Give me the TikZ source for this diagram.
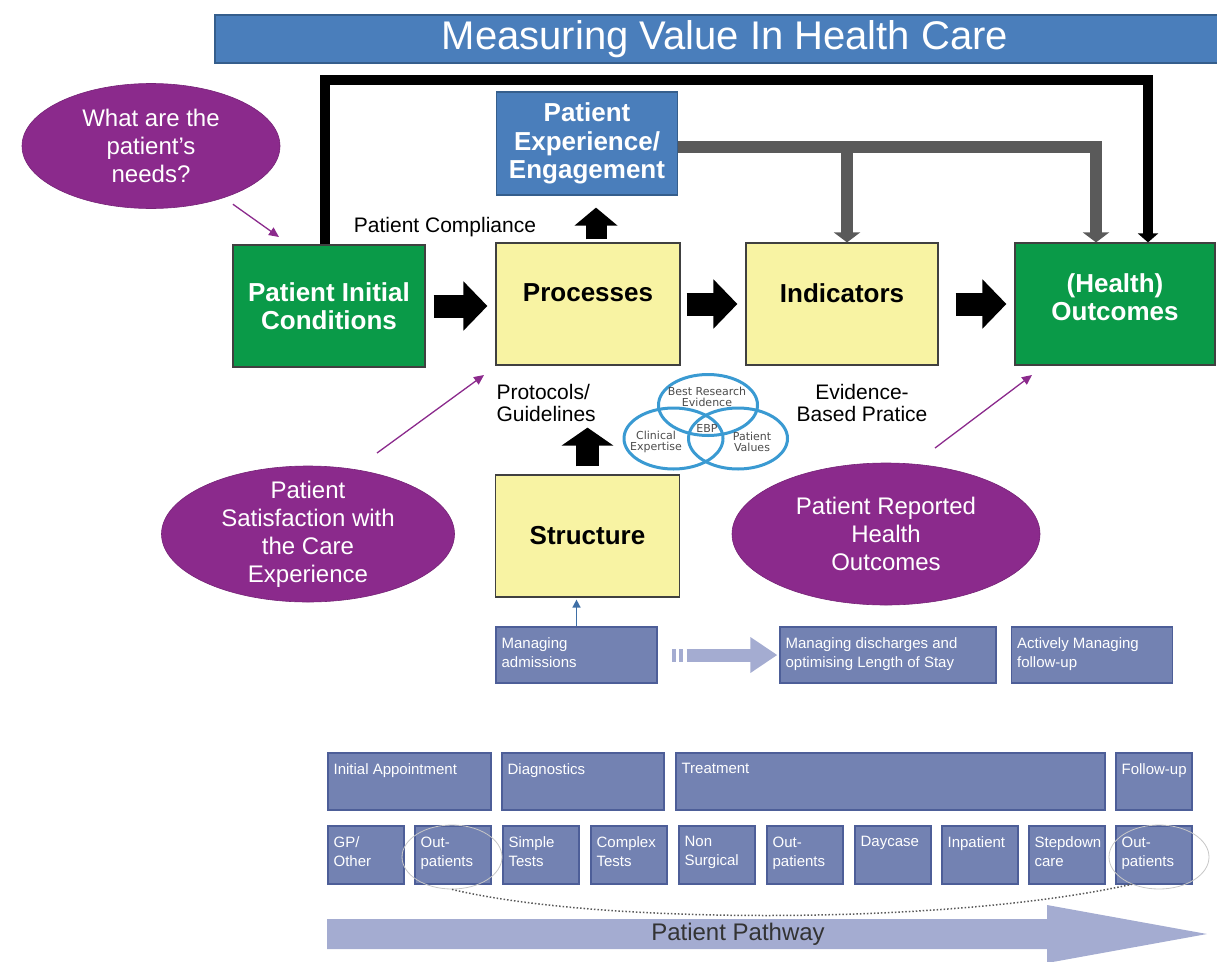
\documentclass[tikz,border=0pt]{standalone}
\usepackage{fontspec}
\setmainfont{Liberation Sans}
\newfontfamily\vennfont{DejaVu Sans}
\usetikzlibrary{shapes.geometric,arrows.meta}

\definecolor{barblue}{HTML}{4A7EBB}
\definecolor{barline}{HTML}{355E8C}
\definecolor{stagegreen}{HTML}{0A9A48}
\definecolor{stageyellow}{HTML}{F8F3A3}
\definecolor{askpurple}{HTML}{8B2A8C}
\definecolor{pathslate}{HTML}{7382B2}
\definecolor{pathline}{HTML}{4D5E98}
\definecolor{pathlilac}{HTML}{A4ACD1}
\definecolor{ebpblue}{HTML}{3A9AD2}
\definecolor{sharegray}{HTML}{5A5A5A}
\definecolor{liftblue}{HTML}{3F6FA6}

\tikzset{
  titlebar/.style={draw=barline, line width=1.2, fill=barblue, text=white,
    minimum width=1020, minimum height=48, font=\fontsize{40}{44}\selectfont},
  stage/.style={draw=black!75, line width=1.2, minimum height=122, align=center,
    font=\fontsize{26}{28.5}\selectfont\bfseries},
  green stage/.style={stage, fill=stagegreen, text=white},
  yellow stage/.style={stage, fill=stageyellow, text=black},
  blue stage/.style={stage, fill=barblue, draw=barline, text=white, minimum height=103},
  bubble/.style={ellipse, fill=askpurple, draw=askpurple!85!black, line width=0.6},
  bubbletext/.style={text=white, align=center, font=\fontsize{24}{28}\selectfont},
  note/.style={font=\fontsize{21}{22}\selectfont},
  pointer/.style={draw=askpurple, line width=1.3, -{Triangle[length=10,width=9]}},
  blockarrow/.style={line width=23, -{Triangle[length=24,width=48]}},
  liftarrow/.style n args={3}{line width=#1, -{Triangle[length=#2,width=#3]}},
  feedback/.style={line width=10, line join=miter, -{Triangle[length=9,width=20]}},
  shared/.style={draw=sharegray, line width=12, line join=miter, -{Triangle[length=10,width=26]}},
  ebp/.style={ellipse, draw=ebpblue, line width=3, minimum width=99, minimum height=61},
  ebptext/.style={font=\vennfont\fontsize{11}{10.5}\selectfont, text=black!70, align=center},
  pathbox/.style 2 args={draw=pathline, fill=pathslate, line width=1.2, inner sep=0,
    minimum width=#1, minimum height=#2},
  pathtext/.style={text=white, align=left, anchor=north west, inner xsep=6, inner ysep=11,
    font=\fontsize{15}{19}\selectfont},
  ring/.style={ellipse, draw=black!22, line width=0.8, minimum width=100, minimum height=64},
  flowlilac/.style={draw=pathlilac, line width=13, -{Triangle[length=27,width=34]}}
}

\begin{document}
\begin{tikzpicture}[x=1pt,y=-1pt]
\useasboundingbox (0,0) rectangle (1217,961);

\node[titlebar] (title) at (725,39) {Measuring Value In Health Care};

\node[green stage, minimum width=192] (pic) at (329,306) {Patient Initial\\Conditions};
\node[yellow stage, minimum width=184, text depth=22] (proc) at (588,304) {Processes};
\node[yellow stage, minimum width=192, text depth=22] (ind) at (842,304) {Indicators};
\node[green stage, minimum width=200, text depth=14] (out) at (1115,304) {(Health)\\Outcomes};
\node[blue stage, minimum width=181] (exp) at (587,143.5) {Patient\\Experience/\\Engagement};
\node[yellow stage, minimum width=184] (struct) at (587.5,536) {Structure};

% feedback loops over the top
\coordinate (loop) at (600,80);
\draw[feedback] ([xshift=-4]pic.north) |- (loop) -| ([xshift=33]out.north);
\coordinate (gbar) at (847,147);
\draw[shared] (exp.east |- gbar) -| ([xshift=-19]out.north);
\draw[shared] (gbar) -- (gbar |- ind.north);

% main chain
\draw[blockarrow, shorten <=8, shorten >=8] (pic.east) -- (pic.east -| proc.west);
\draw[blockarrow, shorten <=6, shorten >=8] (proc.east) -- (proc.east -| ind.west);
\draw[blockarrow, shorten <=17, shorten >=8] (ind.east) -- (ind.east -| out.west);
\coordinate (pu) at ([xshift=8]proc.north);
\draw[liftarrow={21}{18}{42}, shorten <=3, shorten >=12] (pu) -- (pu |- exp.south);
\draw[liftarrow={23}{18}{51}, shorten <=8, shorten >=62] (struct.north) -- (struct.north |- proc.south);

\node[note] (compliance) at (445,227) {Patient Compliance};
\node[note, align=left, anchor=west] (guides) at (493,403) {Protocols/\\Guidelines};
\node[note, align=center] (ebpnote) at (862,403) {Evidence-\\Based Pratice};

% evidence based practice circles
\node[ebp] (evid) at (708,405) {};
\node[ebp] (expert) at (673.5,438.5) {};
\node[ebp] (values) at (738,438.5) {};
\node[ebptext] (evid-t) at (707,397) {Best Research\\Evidence};
\node[ebptext] (ebp-t) at (707,428) {EBP};
\node[ebptext] (expert-t) at (656,442) {Clinical\\Expertise};
\node[ebptext] (values-t) at (752,442) {Patient\\Values};

% patient viewpoint bubbles
\node[bubble, minimum width=258, minimum height=125,
  label={[bubbletext]center:{What are the\\patient's\\needs?}}] (needs) at (151,146) {};
\node[bubble, minimum width=293, minimum height=136,
  label={[bubbletext]center:{Patient\\Satisfaction with\\the Care\\Experience}}] (sat) at (308,534) {};
\node[bubble, minimum width=308, minimum height=142,
  label={[bubbletext]center:{Patient Reported\\Health\\Outcomes}}] (rep) at (886,534) {};
\coordinate (needtip) at (279,237);
\coordinate (satfoot) at (377,453);
\coordinate (sattip) at (484,375);
\coordinate (repfoot) at (935,448);
\coordinate (reptip) at (1032,375);
\draw[pointer, shorten <=11] (needs) -- (needtip);
\draw[pointer] (satfoot) -- (sattip);
\draw[pointer] (repfoot) -- (reptip);

% managing the stay
\node[pathbox={161}{56}, label={[pathtext]north west:{Managing\\admissions}}] (adm) at (576.5,655) {};
\node[pathbox={216}{56}, label={[pathtext]north west:{Managing discharges and\\optimising Length of Stay}}] (dis) at (888,655) {};
\node[pathbox={161}{56}, label={[pathtext]north west:{Actively Managing\\follow-up}}] (fol) at (1092,655) {};
\draw[-{Triangle[length=8,width=8]}, draw=liftblue, line width=1.5, shorten >=2] (adm.north) -- (adm.north |- struct.south);
\fill[pathlilac] (672,649) rectangle (676,662);
\fill[pathlilac] (679,649) rectangle (683,662);
\draw[flowlilac, shorten <=29, shorten >=2] (adm.east) -- (adm.east -| dis.west);

% pathway stages
\node[pathbox={163}{57}, label={[pathtext]north west:{Initial Appointment}}] (initial) at (409.5,781.5) {};
\node[pathbox={162}{57}, label={[pathtext]north west:{Diagnostics}}] (diag) at (583,781.5) {};
\node[pathbox={429}{57}, label={[pathtext]north west:{Treatment}}] (treat) at (890.5,781.5) {};
\node[pathbox={76}{57}, label={[pathtext]north west:{Follow-up}}] (follow) at (1154,781.5) {};

\node[pathbox={76}{58}, label={[pathtext]north west:{GP/\\Other}}] (gp) at (366,855) {};
\node[pathbox={76}{58}, label={[pathtext]north west:{Out-\\patients}}] (op1) at (453,855) {};
\node[pathbox={76}{58}, label={[pathtext]north west:{Simple\\Tests}}] (simple) at (541,855) {};
\node[pathbox={76}{58}, label={[pathtext]north west:{Complex\\Tests}}] (complex) at (629,855) {};
\node[pathbox={76}{58}, label={[pathtext]north west:{Non\\Surgical}}] (nonsurg) at (717,855) {};
\node[pathbox={76}{58}, label={[pathtext]north west:{Out-\\patients}}] (op2) at (805,855) {};
\node[pathbox={76}{58}, label={[pathtext]north west:{Daycase}}] (daycase) at (893,855) {};
\node[pathbox={76}{58}, label={[pathtext]north west:{Inpatient}}] (inpat) at (980,855) {};
\node[pathbox={76}{58}, label={[pathtext]north west:{Stepdown\\care}}] (stepdown) at (1067,855) {};
\node[pathbox={76}{58}, label={[pathtext]north west:{Out-\\patients}}] (op3) at (1154,855) {};

\node[ring] (ringA) at (452,857) {};
\node[ring] (ringB) at (1159,857) {};
\draw[dotted, draw=black!65, line width=1.5] (ringA.south) .. controls (600,925) and (950,925) .. (ringB.225);

\fill[pathlilac] (327,919) -- (1047,919) -- (1047,905) -- (1207,934) -- (1047,963) -- (1047,949) -- (327,949) -- cycle;
\node[font=\fontsize{24}{26}\selectfont, text=black!80] (pathway) at (738,934) {Patient Pathway};
\end{tikzpicture}
\end{document}
